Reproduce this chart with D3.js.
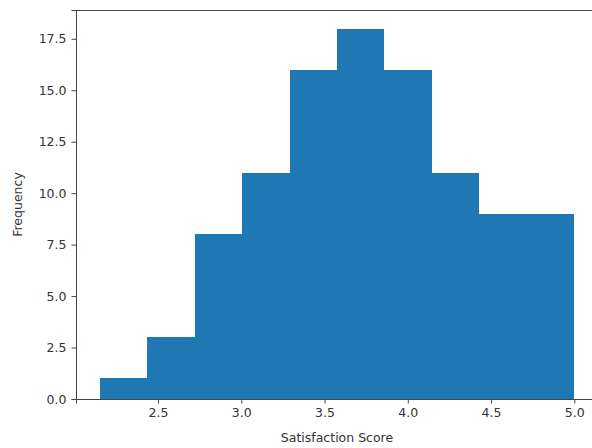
<!DOCTYPE html>
<html>
<head>
<meta charset="utf-8">
<script src="https://cdn.jsdelivr.net/npm/d3@7"></script>
<style>
  body { margin: 0; background: #fff; }
  text { font-family: "DejaVu Sans", sans-serif; }
</style>
</head>
<body>
<div id="chart"></div>
<script>
// histogram bins
const binEdges = [2.15, 2.435, 2.72, 3.005, 3.29, 3.575, 3.86, 4.145, 4.43, 4.715, 5.0];
const counts = [1, 3, 8, 11, 16, 18, 16, 11, 9, 9];
const xTicks = [2.5, 3.0, 3.5, 4.0, 4.5, 5.0];
const yTicks = [0, 2.5, 5, 7.5, 10, 12.5, 15, 17.5];

const width = 592;
const height = 448;
const margin = { top: 10, right: -6, bottom: 49, left: 76 };

const svg = d3.select('#chart')
  .append('svg')
  .attr('width', width)
  .attr('height', height);

const x = d3.scaleLinear()
  .domain([2.0075, 5.1425])
  .range([margin.left, width - margin.right]);

const y = d3.scaleLinear()
  .domain([0, 18.9])
  .range([height - margin.bottom, margin.top]);

const bins = counts.map((c, i) => ({ x0: binEdges[i], x1: binEdges[i + 1], count: c }));

svg.append("g")
  .attr("fill", "#1f77b4")
  .attr("shape-rendering", "crispEdges")
  .selectAll("rect")
  .data(bins)
  .join("rect")
    .attr("x", d => Math.round(x(d.x0)))
    .attr("y", d => y(d.count))
    .attr("width", d => Math.round(x(d.x1)) - Math.round(x(d.x0)))
    .attr("height", d => y(0) - y(d.count));

function styleAxis(g) {
  g.attr("font-size", "12.5px").attr("font-family", "DejaVu Sans, sans-serif");
  g.selectAll(".domain").attr("stroke", "#444");
  g.selectAll(".tick line").attr("stroke", "#444");
  g.selectAll(".tick text").attr("fill", "#333");
}

svg.append("g")
  .attr("transform", `translate(0,${height - margin.bottom})`)
  .call(d3.axisBottom(x).tickValues(xTicks).tickFormat(d3.format(".1f")).tickSizeOuter(0).tickSize(4.5).tickPadding(5))
  .call(styleAxis);

svg.append("g")
  .attr("transform", `translate(${margin.left},0)`)
  .call(d3.axisLeft(y).tickValues(yTicks).tickFormat(d3.format(".1f")).tickSizeOuter(0).tickSize(4.5).tickPadding(5))
  .call(styleAxis);

// top spine
svg.append("line")
  .attr("x1", margin.left).attr("x2", width)
  .attr("y1", margin.top + 0.5).attr("y2", margin.top + 0.5)
  .attr("stroke", "#444");

svg.append("text")
  .attr("x", x(3.575))
  .attr("y", height - 6)
  .attr("text-anchor", "middle")
  .attr("font-size", "12.5px")
  .attr("fill", "#333")
  .text("Satisfaction Score");

svg.append("text")
  .attr("transform", `translate(22,${(margin.top + height - margin.bottom) / 2}) rotate(-90)`)
  .attr("text-anchor", "middle")
  .attr("font-size", "12.5px")
  .attr("fill", "#333")
  .text("Frequency");
</script>
</body>
</html>
